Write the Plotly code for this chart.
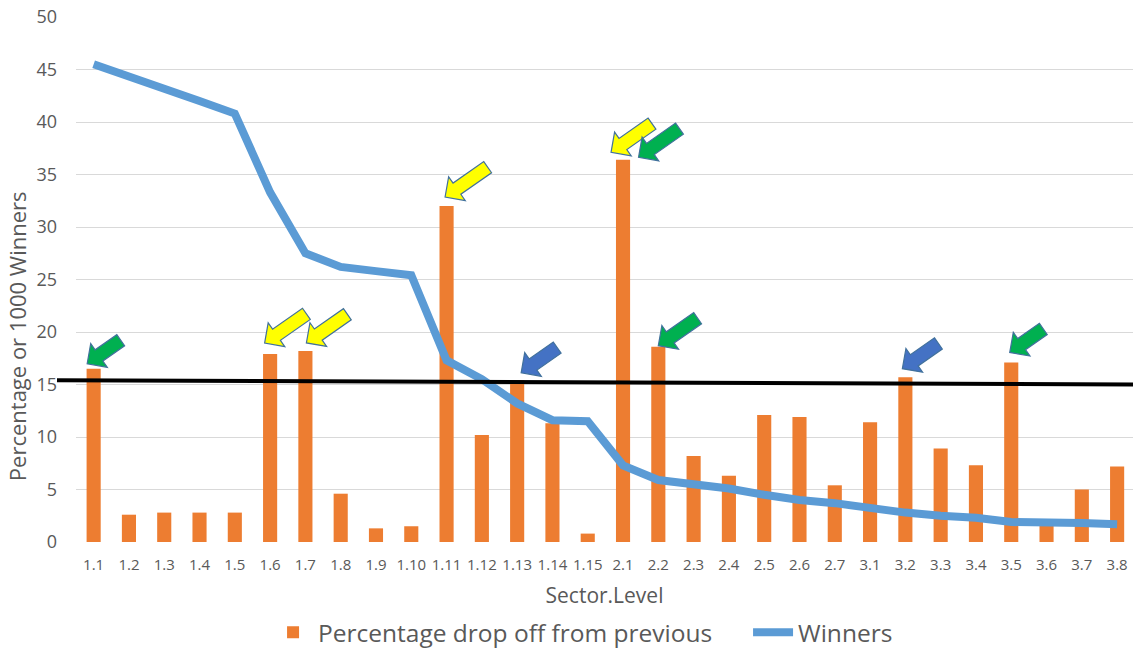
import math
import plotly.graph_objects as go

# ---- data ----
categories = ["1.1", "1.2", "1.3", "1.4", "1.5", "1.6", "1.7", "1.8", "1.9", "1.10",
              "1.11", "1.12", "1.13", "1.14", "1.15",
              "2.1", "2.2", "2.3", "2.4", "2.5", "2.6", "2.7",
              "3.1", "3.2", "3.3", "3.4", "3.5", "3.6", "3.7", "3.8"]
drop_off = [16.5, 2.6, 2.8, 2.8, 2.8, 17.9, 18.2, 4.6, 1.3, 1.5,
            32.0, 10.2, 15.4, 11.3, 0.8,
            36.4, 18.6, 8.2, 6.3, 12.1, 11.9, 5.4,
            11.4, 15.7, 8.9, 7.3, 17.1, 1.6, 5.0, 7.2]
winners = [45.5, 44.4, 43.2, 42.0, 40.8, 33.3, 27.5, 26.2, 25.8, 25.4,
           17.3, 15.5, 13.2, 11.6, 11.5,
           7.3, 5.9, 5.5, 5.1, 4.5, 4.0, 3.7,
           3.2, 2.8, 2.5, 2.3, 1.9, 1.9, 1.8, 1.7]
threshold_start = 15.4
threshold_end = 15.0

# highlighted bars (category, arrow colour)
arrow_cats = ["1.1", "1.6", "1.7", "1.11", "1.13", "2.1", "2.1", "2.2", "3.2", "3.5"]
arrow_colors = ["#00B050", "#FFFF00", "#FFFF00", "#FFFF00", "#4472C4",
                "#FFFF00", "#00B050", "#00B050", "#4472C4", "#00B050"]
# pixel offsets of arrow tip from bar top, arrow length (styling)
arrow_dx = [-6.5, -5.5, 1, -1.5, 4, -12, 15.5, 0, -3, -1.5]
arrow_dy = [5, 11, 8, 9, 7.5, 7.5, 2.5, 1, 8.5, 10]
arrow_len = [41, 51, 50, 52, 44, 50, 50, 48, 44, 41]

FONT = "Open Sans, Noto Sans, Liberation Sans, sans-serif"
GREY = "#595959"

fig = go.Figure()
fig.add_trace(go.Bar(
    x=categories, y=drop_off, name="Percentage drop off from previous",
    marker=dict(color="#ED7D31", line=dict(width=0)),
))
fig.add_trace(go.Scatter(
    x=categories, y=winners, name="Winners", mode="lines",
    line=dict(color="#5B9BD5", width=8, shape="linear"),
))

shapes = []
# threshold line
shapes.append(dict(type="line", xref="paper", yref="y",
                   x0=-0.018, x1=1.0, y0=threshold_start, y1=threshold_end,
                   line=dict(color="black", width=4), layer="above"))


def arrow_path(dx, dy, L, ang=35.0, h=14.5, w=14.5, s=6.8):
    a = math.radians(ang)
    ux, uy = math.cos(a), math.sin(a)
    nx, ny = -math.sin(a), math.cos(a)
    T = (dx, dy)
    B = (dx + h * ux, dy + h * uy)
    E = (dx + L * ux, dy + L * uy)
    pts = [T,
           (B[0] + w * nx, B[1] + w * ny),
           (B[0] + s * nx, B[1] + s * ny),
           (E[0] + s * nx, E[1] + s * ny),
           (E[0] - s * nx, E[1] - s * ny),
           (B[0] - s * nx, B[1] - s * ny),
           (B[0] - w * nx, B[1] - w * ny)]
    return "M" + " L".join(f"{px:.2f},{py:.2f}" for px, py in pts) + " Z"


for cat, col, dx, dy, L in zip(arrow_cats, arrow_colors, arrow_dx, arrow_dy, arrow_len):
    idx = categories.index(cat)
    shapes.append(dict(
        type="path", xref="x", yref="y",
        xsizemode="pixel", ysizemode="pixel",
        xanchor=idx, yanchor=drop_off[idx],
        path=arrow_path(dx, dy, L),
        fillcolor=col, line=dict(color="#41719C", width=1.2), layer="above",
    ))

fig.update_layout(
    width=1133, height=648,
    margin=dict(l=76, r=0, t=17, b=106, autoexpand=False),
    paper_bgcolor="white", plot_bgcolor="white",
    font=dict(family=FONT, color=GREY),
    bargap=0.6,
    showlegend=True,
    legend=dict(orientation="h", x=0.1817, xanchor="left", y=-0.172, yanchor="middle",
                font=dict(size=24.5, color=GREY, family=FONT), itemwidth=40,
                entrywidth=425, entrywidthmode="pixels"),
    shapes=shapes,
    annotations=[dict(text="Percentage or 1000 Winners", textangle=-90,
                      xref="paper", yref="paper", x=-0.0563, y=0.393,
                      xanchor="center", yanchor="middle", showarrow=False,
                      font=dict(size=22, color=GREY, family=FONT))],
)
fig.update_xaxes(type="category", categoryorder="array", categoryarray=categories,
                 range=[-0.5, 29.45], showgrid=False, ticks="", showline=False,
                 automargin=False,
                 tickfont=dict(size=15, color=GREY), ticklabelstandoff=12,
                 title=dict(text="Sector.Level", font=dict(size=21, color=GREY), standoff=15))
fig.update_yaxes(range=[0, 50], dtick=5, showgrid=True, gridcolor="#D9D9D9", gridwidth=1,
                 zeroline=False, showline=False, ticks="", automargin=False,
                 tickfont=dict(size=18, color=GREY), ticklabelstandoff=18)

fig.write_html("out.html")
